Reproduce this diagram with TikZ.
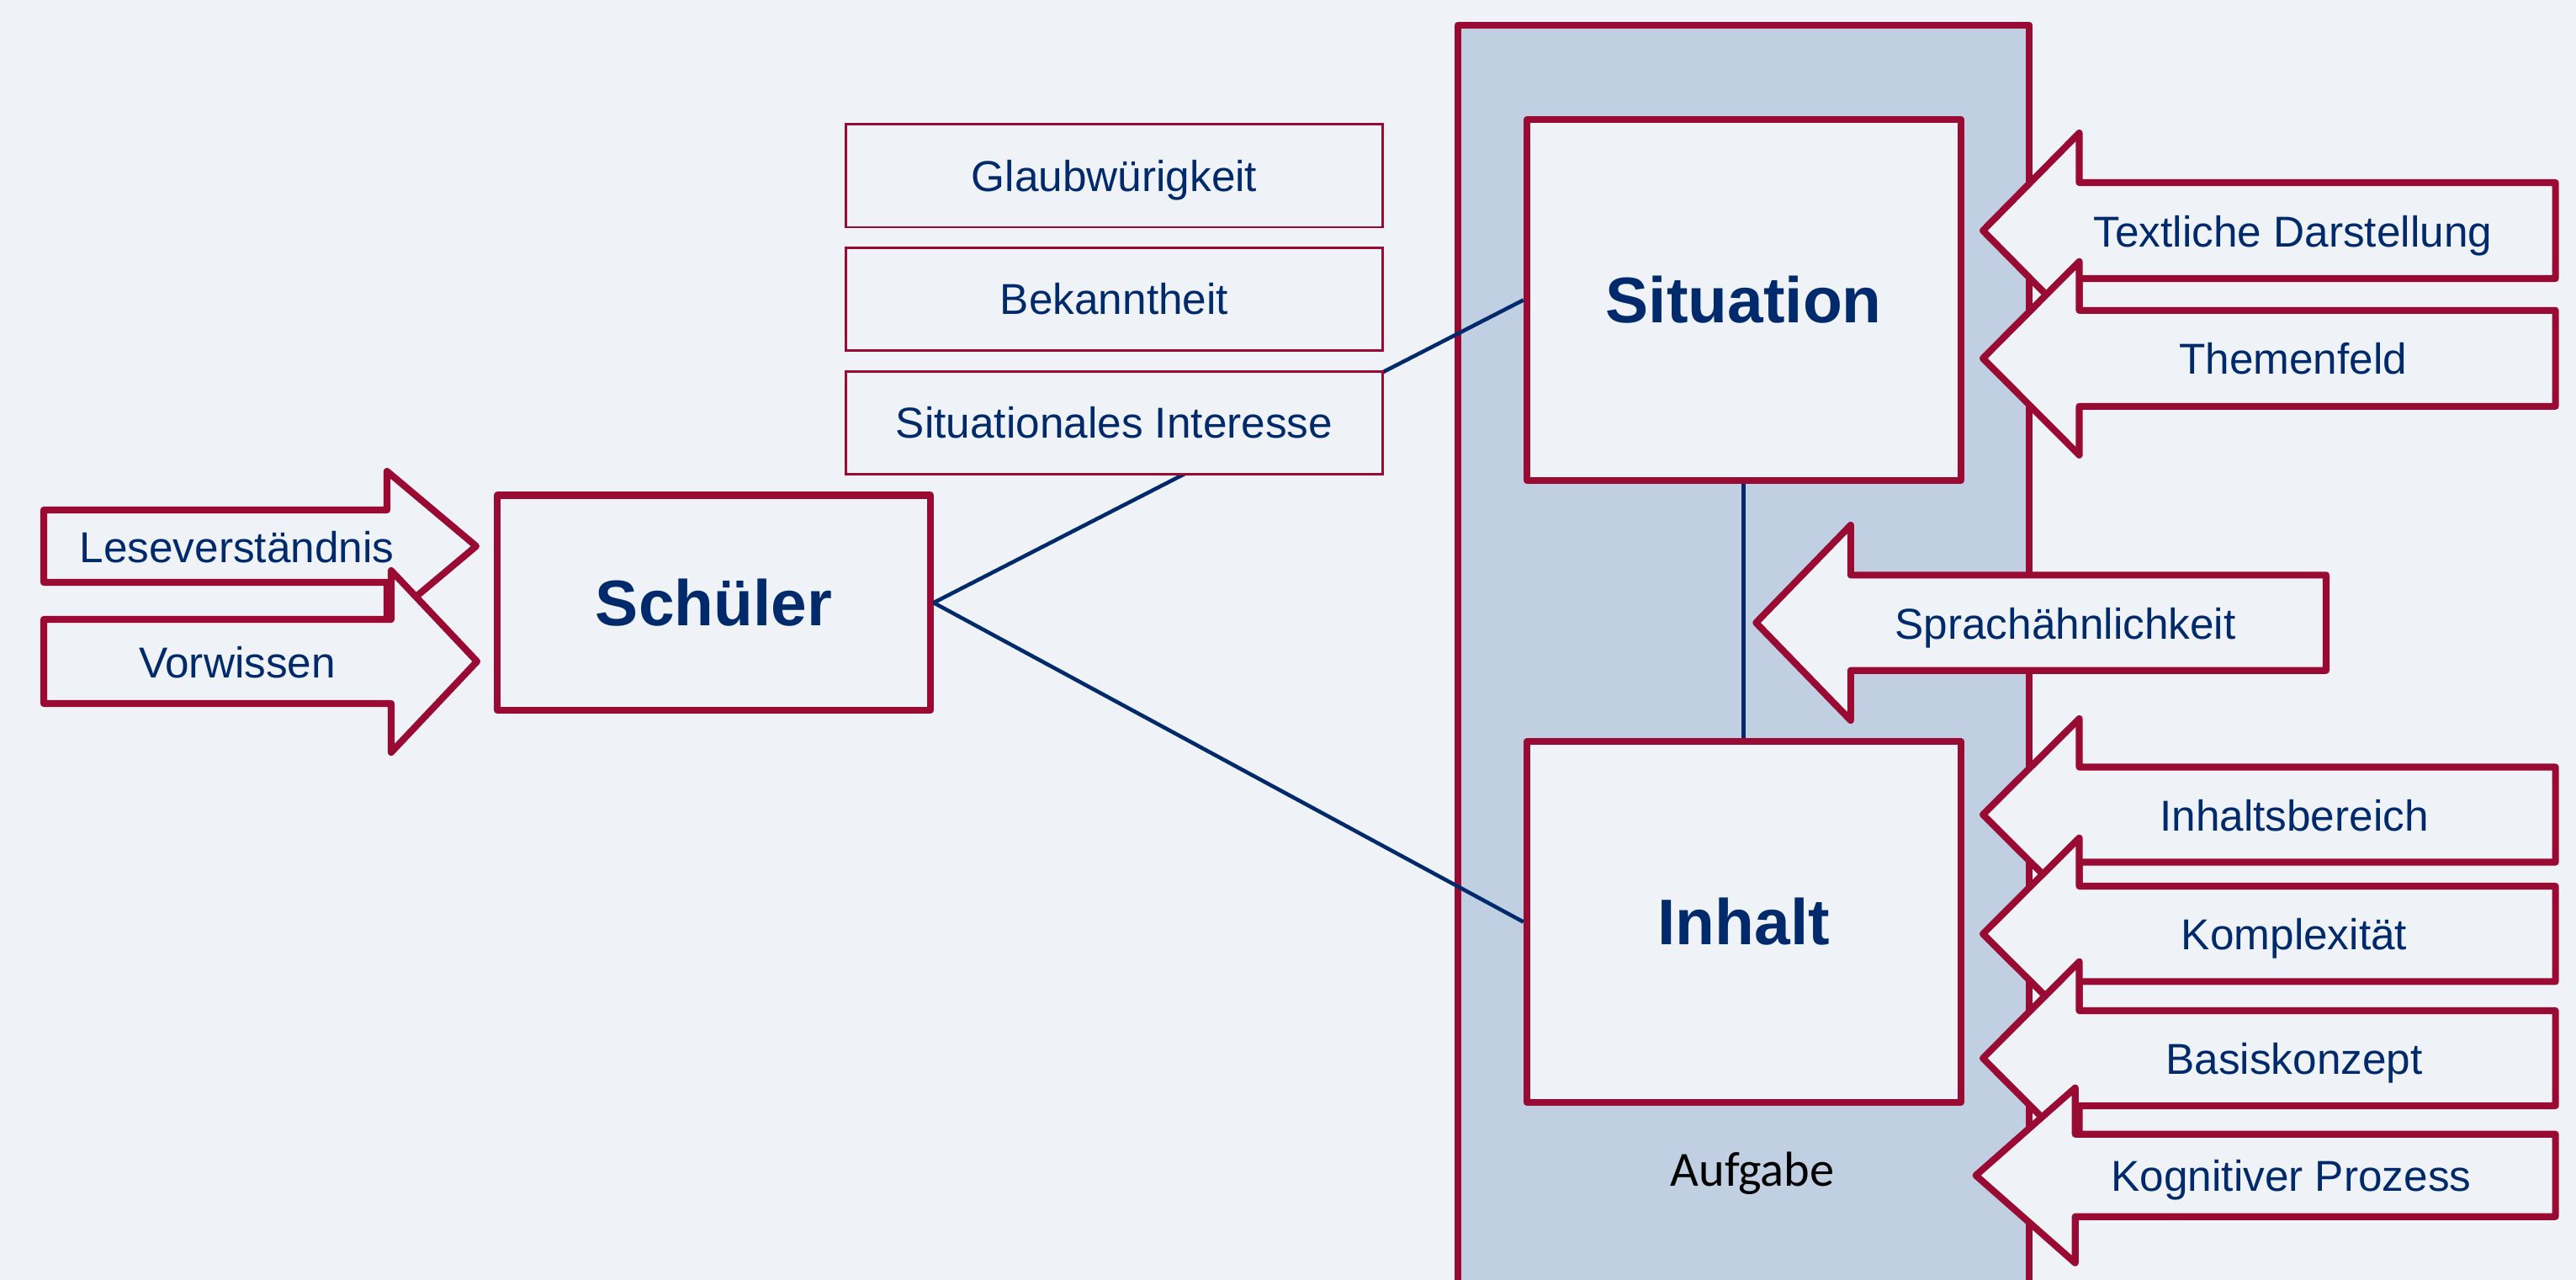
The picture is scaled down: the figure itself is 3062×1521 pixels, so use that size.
\documentclass[tikz,border=0pt]{standalone}
\usepackage{fontspec}
\setmainfont{Liberation Sans}
\newfontfamily\calibfont{Carlito}
\definecolor{bgc}{RGB}{239,243,247}
\definecolor{aufc}{RGB}{192,208,226}
\definecolor{redc}{RGB}{153,11,51}
\definecolor{navy}{RGB}{0,42,108}
% left-pointing block arrow: tipx, cy, basex, rightx, bodyhalf, headhalf
\newcommand\LArrowShape[6]{%
  \draw[arrowshape] (#1,#2) -- (#3,#2-#6) -- (#3,#2-#5) -- (#4,#2-#5) -- (#4,#2+#5) -- (#3,#2+#5) -- (#3,#2+#6) -- cycle;}
% right-pointing block arrow: tipx, cy, basex, leftx, bodyhalf, headhalf
\newcommand\RArrowShape[6]{%
  \draw[arrowshape] (#4,#2-#5) -- (#3,#2-#5) -- (#3,#2-#6) -- (#1,#2) -- (#3,#2+#6) -- (#3,#2+#5) -- (#4,#2+#5) -- cycle;}
\begin{document}
\begin{tikzpicture}[x=0.01cm,y=-0.01cm,
  redline/.style={draw=redc, line width=2.3pt, line join=round},
  bigbox/.style={redline, fill=bgc, inner sep=0pt, text=navy,
    font=\fontsize{21.8}{26}\selectfont\bfseries, text height=15.6pt, text depth=0pt},
  factbox/.style={draw=redc, line width=0.8pt, fill=bgc, inner sep=0pt,
    minimum width=6.37cm, minimum height=1.22cm, text=navy,
    font=\fontsize{14.6}{17}\selectfont, text height=10.45pt, text depth=0pt},
  arrowshape/.style={redline, fill=bgc},
  lbl/.style={anchor=base, text=navy, inner sep=0pt, font=\fontsize{14.6}{17}\selectfont},
  conn/.style={draw=navy, line width=1.3pt}]
\useasboundingbox (0,0) rectangle (3062,1521);
\fill[bgc] (0,0) rectangle (3062,1521);
\clip (0,0) rectangle (3062,1521);

% Aufgabe frame
\draw[redline, fill=aufc] (1733,29.7) rectangle (2412,1620);
\node[anchor=base, inner sep=0pt, text=black, font=\fontsize{16.6}{20}\selectfont\calibfont] (aufgabe) at (2083,1409.3) {Aufgabe};

% main boxes
\node[bigbox, minimum width=5.155cm, minimum height=4.28cm] (situation) at (2072.75,356.5) {Situation};
\node[bigbox, minimum width=5.155cm, minimum height=4.28cm] (inhalt) at (2072.75,1095.5) {Inhalt};
\node[bigbox, minimum width=5.141cm, minimum height=2.553cm] (schueler) at (848.5,716.2) {Schüler};

% connectors
\draw[conn] (schueler.east) -- (situation.west);
\draw[conn] (schueler.east) -- (inhalt.west);
\draw[conn] (situation.south) -- (inhalt.north);

% factor boxes
\node[factbox] (glaub) at (1324.5,208.9) {Glaubwürigkeit};
\node[factbox] (bekannt) at (1324.5,355.2) {Bekanntheit};
\node[factbox] (sitint) at (1324.5,502.5) {Situationales Interesse};

% left arrows (pointing right)
\RArrowShape{566}{649}{460}{52}{43}{89}
\node[lbl] (tlese) at (281.5,668.3) {Leseverständnis};
\RArrowShape{567}{786}{465}{52}{50}{108}
\node[lbl] (tvor) at (282,805) {Vorwissen};

% right arrows (pointing left)
\LArrowShape{2357}{274}{2471.5}{3037.6}{57}{116}
\node[lbl] (ttext) at (2725.5,293.3) {Textliche Darstellung};
\LArrowShape{2357}{425.8}{2471.5}{3037.6}{57}{115}
\node[lbl] (tthem) at (2725.7,444) {Themenfeld};
\LArrowShape{2087.3}{740}{2199.8}{2765}{56.7}{116}
\node[lbl] (tsprach) at (2455,759.3) {Sprachähnlichkeit};
\LArrowShape{2357}{968}{2471.5}{3037.6}{56.5}{114}
\node[lbl] (tinh) at (2727,987.6) {Inhaltsbereich};
\LArrowShape{2357}{1109.7}{2471.5}{3037.6}{56.7}{114}
\node[lbl] (tkom) at (2727,1128.4) {Komplexität};
\LArrowShape{2357}{1257.5}{2471.5}{3037.6}{56.5}{114.8}
\node[lbl] (tbas) at (2727,1276) {Basiskonzept};
\LArrowShape{2348.6}{1396.7}{2466.7}{3037.6}{49}{104}
\node[lbl] (tkog) at (2723.5,1415.9) {Kognitiver Prozess};
\end{tikzpicture}
\end{document}
